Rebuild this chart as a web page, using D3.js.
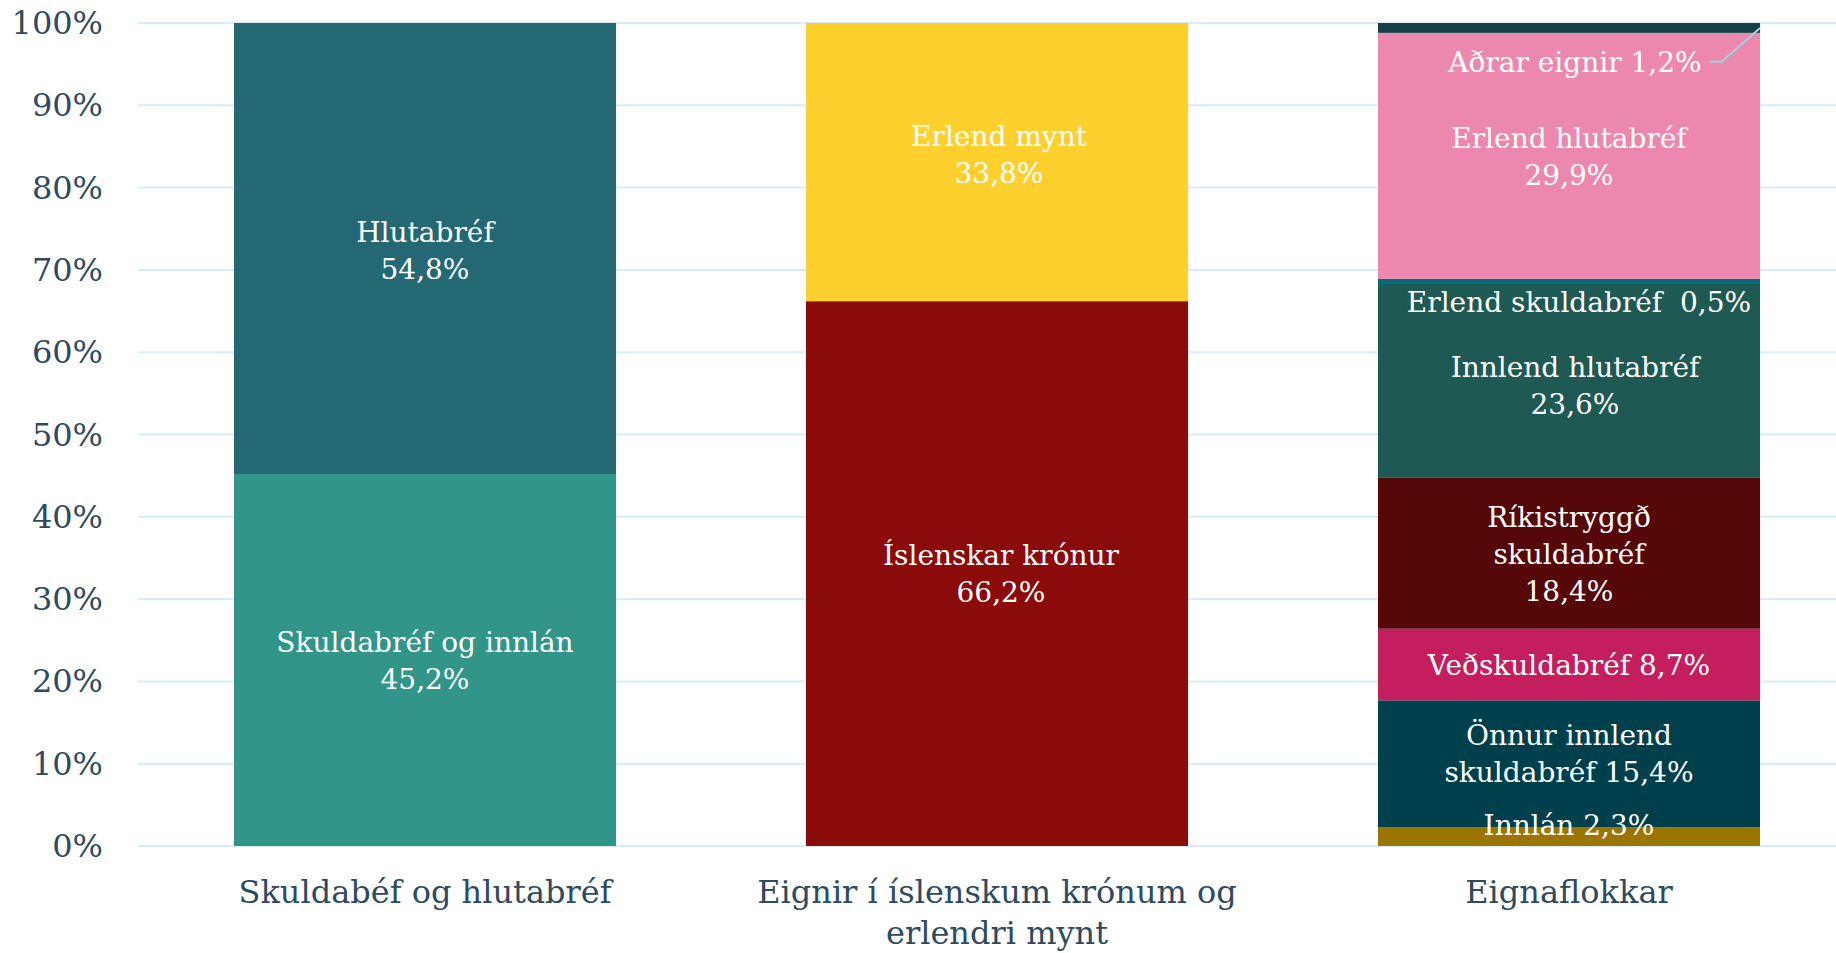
<!DOCTYPE html>
<html>
<head>
<meta charset="utf-8">
<script src="https://cdn.jsdelivr.net/npm/d3@7"></script>
<style>
    body { margin: 0; background: #fff; }
    text { font-family: 'DejaVu Serif', Georgia, serif; }
    .tick-label { fill: #2e4a60; font-size: 32px; }
    .seg-label { fill: #fff; font-size: 28px; white-space: pre; }
</style>
</head>
<body>
<svg width="1836" height="953"></svg>
<script>
// categories (x axis), one label line per entry
let categories = ['Skuldabéf og hlutabréf', 'Eignir í íslenskum krónum og erlendri mynt', 'Eignaflokkar']
let categoryLines = [
    ['Skuldabéf og hlutabréf'],
    ['Eignir í íslenskum krónum og', 'erlendri mynt'],
    ['Eignaflokkar']
]

// stacked segments, bottom to top
let seriesCategory = [0, 0, 1, 1, 2, 2, 2, 2, 2, 2, 2, 2]
let seriesNames = [
    'Skuldabréf og innlán', 'Hlutabréf',
    'Íslenskar krónur', 'Erlend mynt',
    'Innlán', 'Önnur innlend skuldabréf', 'Veðskuldabréf', 'Ríkistryggð skuldabréf',
    'Innlend hlutabréf', 'Erlend skuldabréf', 'Erlend hlutabréf', 'Aðrar eignir'
]
let seriesValues = [45.2, 54.8, 66.2, 33.8, 2.3, 15.4, 8.7, 18.4, 23.6, 0.5, 29.9, 1.2]
let seriesColors = [
    '#31958a', '#236873',
    '#8b0a0a', '#fdd02e',
    '#9a7600', '#00404d', '#c41e5f', '#560708',
    '#1f5953', '#006d7f', '#ec88ae', '#163f49'
]
let labelLines = [
    ['Skuldabréf og innlán', '45,2%'], ['Hlutabréf', '54,8%'],
    ['Íslenskar krónur', '66,2%'], ['Erlend mynt', '33,8%'],
    ['Innlán 2,3%'], ['Önnur innlend', 'skuldabréf 15,4%'], ['Veðskuldabréf 8,7%'], ['Ríkistryggð', 'skuldabréf', '18,4%'],
    ['Innlend hlutabréf', '23,6%'], ['Erlend skuldabréf  0,5%'], ['Erlend hlutabréf', '29,9%'], ['Aðrar eignir 1,2%']
]
// where the label sits (percent on the y axis)
let labelAt = [22.6, 72.4, 33.1, 84.0, 2.5, 11.2, 22.0, 35.5, 56.0, 66.1, 83.8, 95.3]
let labelShift = [0, 0, 4, 2, 0, 0, 0, 0, 6, 10, 0, 6]
let yTicks = [0, 10, 20, 30, 40, 50, 60, 70, 80, 90, 100]

let svg = d3.select('svg')
let width = +svg.attr('width')
let plot = { left: 139, right: 1855, top: 23, bottom: 846 }

let scale = {
    x: d3.scaleBand().domain(d3.range(categories.length))
        .range([plot.left, plot.right]).paddingInner(0.332).paddingOuter(0.166),
    y: d3.scaleLinear().domain([0, 100]).range([plot.bottom, plot.top])
}

// gridlines
svg.append('g')
    .selectAll('line')
    .data(yTicks)
    .enter()
    .append('line')
    .attr('x1', plot.left - 1)
    .attr('x2', width)
    .attr('y1', d => scale.y(d))
    .attr('y2', d => scale.y(d))
    .attr('stroke', '#d6eef3')
    .attr('stroke-width', 2)

// y labels
svg.append('g')
    .selectAll('text')
    .data(yTicks)
    .enter()
    .append('text')
    .attr('class', 'tick-label')
    .attr('x', 103)
    .attr('y', d => scale.y(d))
    .attr('text-anchor', 'end')
    .attr('dominant-baseline', 'central')
    .text(d => d + '%')

// stack the segments per category
let segments = []
let base = categories.map(() => 0)
seriesValues.forEach((v, i) => {
    let c = seriesCategory[i]
    segments.push({ i: i, c: c, y0: base[c], y1: base[c] + v })
    base[c] += v
})

svg.append('g')
    .selectAll('rect')
    .data(segments)
    .enter()
    .append('rect')
    .attr('x', d => scale.x(d.c))
    .attr('y', d => scale.y(d.y1))
    .attr('width', scale.x.bandwidth())
    .attr('height', d => scale.y(d.y0) - scale.y(d.y1))
    .attr('fill', d => seriesColors[d.i])

// segment labels
let lineHeight = 37
let labels = svg.append('g')
segments.forEach(d => {
    let lines = labelLines[d.i]
    let cx = scale.x(d.c) + scale.x.bandwidth() / 2 + labelShift[d.i]
    let cy = scale.y(labelAt[d.i])
    let t = labels.append('text')
        .attr('class', 'seg-label')
        .attr('text-anchor', 'middle')
        .attr('dominant-baseline', 'central')
    lines.forEach((line, k) => {
        t.append('tspan')
            .attr('x', cx)
            .attr('y', cy + (k - (lines.length - 1) / 2) * lineHeight)
            .text(line)
    })
    // leader line for the thin top slice
    if (seriesNames[d.i] === 'Aðrar eignir') {
        let end = cx + t.node().getComputedTextLength() / 2 + 8
        let barRight = scale.x(d.c) + scale.x.bandwidth()
        svg.append('path')
            .attr('d', `M${end},${cy} L${end + 12},${cy} L${barRight},${scale.y((d.y0 + d.y1) / 2)}`)
            .attr('fill', 'none')
            .attr('stroke', '#9fd3df')
            .attr('stroke-width', 2)
    }
})

// x labels
let xg = svg.append('g')
categoryLines.forEach((lines, c) => {
    let t = xg.append('text')
        .attr('class', 'tick-label')
        .attr('text-anchor', 'middle')
        .attr('dominant-baseline', 'central')
    lines.forEach((line, k) => {
        t.append('tspan')
            .attr('x', scale.x(c) + scale.x.bandwidth() / 2)
            .attr('y', 892 + k * 41)
            .text(line)
    })
})
</script>
</body>
</html>
